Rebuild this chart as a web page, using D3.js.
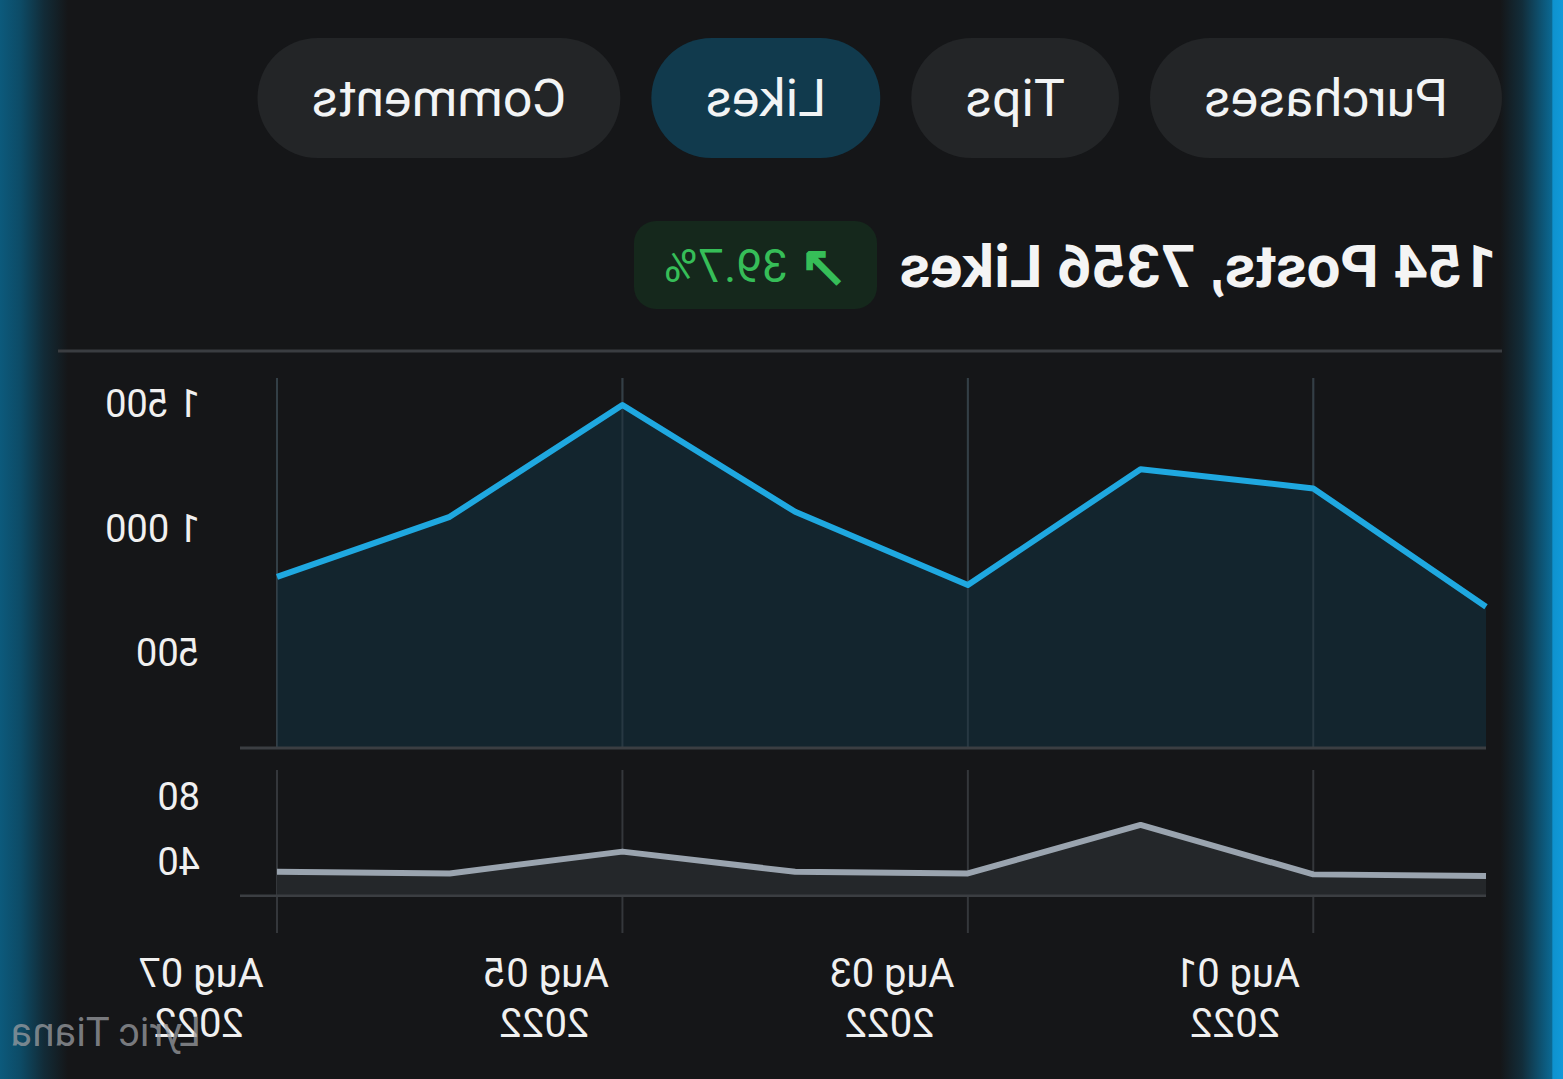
<!DOCTYPE html>
<html>
<head>
<meta charset="utf-8">
<script src="https://cdn.jsdelivr.net/npm/d3@7"></script>
<style>
  body { margin: 0; background: #151618; overflow: hidden; }
  svg { display: block; font-family: Roboto, "Noto Sans", sans-serif; }
</style>
</head>
<body>
<svg id="chart" width="1563" height="1079"></svg>
<script>
// data
const days = ["2022-07-31", "2022-08-01", "2022-08-02", "2022-08-03", "2022-08-04", "2022-08-05", "2022-08-06", "2022-08-07"];
const likes = [686, 1161, 1238, 773, 1067, 1496, 1047, 806];
const posts = [31.2, 32.2, 62.6, 32.8, 33.8, 46.2, 32.8, 33.8];
const likeTicks = [500, 1000, 1500];
const postTicks = [40, 80];
const dateTicks = ["2022-08-01", "2022-08-03", "2022-08-05", "2022-08-07"];
const tabs = ["Purchases", "Tips", "Likes", "Comments"];
const activeTab = "Likes";
const title = "154 Posts, 7356 Likes";
const arrow = "\u2197";
const change = "39.7%";
const credit = "Lyric Tiana";

const W = 1563, H = 1079;
const parse = d3.timeParse("%Y-%m-%d");
const rows = days.map((d, i) => ({date: parse(d), likes: likes[i], posts: posts[i]}));

const svg = d3.select("#chart");
const defs = svg.append("defs");

// glowing blue edges of the phone frame
const gl = defs.append("linearGradient").attr("id", "edgeL");
gl.append("stop").attr("offset", "0%").attr("stop-color", "#0c5a7c");
gl.append("stop").attr("offset", "30%").attr("stop-color", "#0d4b66");
gl.append("stop").attr("offset", "65%").attr("stop-color", "#122b37");
gl.append("stop").attr("offset", "100%").attr("stop-color", "#151618");
const gr = defs.append("linearGradient").attr("id", "edgeR");
gr.append("stop").attr("offset", "0%").attr("stop-color", "#151618");
gr.append("stop").attr("offset", "35%").attr("stop-color", "#122d3a");
gr.append("stop").attr("offset", "82%").attr("stop-color", "#0b6892");
gr.append("stop").attr("offset", "84%").attr("stop-color", "#0e92cf");
gr.append("stop").attr("offset", "100%").attr("stop-color", "#1199d8");

svg.append("rect").attr("width", W).attr("height", H).attr("fill", "#151618");
svg.append("rect").attr("x", 0).attr("y", 0).attr("width", 68).attr("height", H).attr("fill", "url(#edgeL)");
svg.append("rect").attr("x", 1500).attr("y", 0).attr("width", 63).attr("height", H).attr("fill", "url(#edgeR)");

// the whole screen is shown mirrored
const g = svg.append("g").attr("transform", `translate(${W},0) scale(-1,1)`);

// tabs
let tx = 61;
tabs.forEach(t => {
  const tg = g.append("g");
  const rect = tg.append("rect").attr("y", 38).attr("height", 120).attr("rx", 60)
    .attr("fill", t === activeTab ? "#113a4d" : "#232527");
  const label = tg.append("text").text(t).attr("y", 98)
    .attr("dominant-baseline", "central").attr("text-anchor", "middle")
    .attr("font-size", 52).attr("fill", "#f2f4f5");
  const w = label.node().getComputedTextLength() + 108;
  rect.attr("x", tx).attr("width", w);
  label.attr("x", tx + w / 2);
  tx += w + 31;
});

// headline and change badge
g.append("text").text(title).attr("x", 66).attr("y", 287)
  .attr("font-size", 60).attr("font-weight", "bold").attr("fill", "#f4f4f4");
g.append("rect").attr("x", 686).attr("y", 221).attr("width", 243).attr("height", 88)
  .attr("rx", 22).attr("fill", "#15281c");
const badge = g.append("text").attr("x", 807).attr("y", 266)
  .attr("text-anchor", "middle").attr("dominant-baseline", "central")
  .attr("font-size", 46).attr("fill", "#36be58");
badge.append("tspan").attr("font-size", 58).attr("font-weight", "bold").text(arrow);
badge.append("tspan").text(" " + change);

g.append("line").attr("x1", 61).attr("x2", 1505).attr("y1", 351).attr("y2", 351)
  .attr("stroke", "#3a3d41").attr("stroke-width", 3);

// scales
const x = d3.scaleTime().domain(d3.extent(rows, d => d.date)).range([77, 1286]);
const yMain = d3.scaleLinear().domain([500, 1500]).range([653, 404]);
const ySub = d3.scaleLinear().domain([40, 80]).range([861.7, 796.7]);
const mainTop = 378, mainBottom = 748, subTop = 770, subBottom = 895.7, subGridEnd = 933;

const fmt = d3.formatLocale({decimal: ".", thousands: " ", grouping: [3], currency: ["", ""]}).format(",");

// vertical grid
dateTicks.forEach(d => {
  const xx = x(parse(d));
  g.append("line").attr("x1", xx).attr("x2", xx).attr("y1", mainTop).attr("y2", mainBottom)
    .attr("stroke", "#34373b").attr("stroke-width", 2);
  g.append("line").attr("x1", xx).attr("x2", xx).attr("y1", subTop).attr("y2", subGridEnd)
    .attr("stroke", "#34373b").attr("stroke-width", 2);
});

// likes pane
g.append("path").datum(rows)
  .attr("d", d3.area().x(d => x(d.date)).y0(mainBottom).y1(d => yMain(d.likes)))
  .attr("fill", "#13262f").attr("fill-opacity", 0.95);
dateTicks.forEach(d => {
  const xx = x(parse(d));
  g.append("line").attr("x1", xx).attr("x2", xx).attr("y1", mainTop).attr("y2", mainBottom)
    .attr("stroke", "#34454e").attr("stroke-width", 2).attr("stroke-opacity", 0.6);
});
g.append("path").datum(rows)
  .attr("d", d3.line().x(d => x(d.date)).y(d => yMain(d.likes)))
  .attr("fill", "none").attr("stroke", "#1fa8e0").attr("stroke-width", 6)
  .attr("stroke-linejoin", "round");
g.append("line").attr("x1", 77).attr("x2", 1323).attr("y1", mainBottom).attr("y2", mainBottom)
  .attr("stroke", "#3b3e42").attr("stroke-width", 3);

g.selectAll(".ytick").data(likeTicks).join("text")
  .attr("x", 1363).attr("y", d => yMain(d)).attr("dominant-baseline", "central")
  .attr("font-size", 38).attr("fill", "#f0f0f0").text(d => fmt(d));

// posts pane
g.append("path").datum(rows)
  .attr("d", d3.area().x(d => x(d.date)).y0(subBottom).y1(d => ySub(d.posts)))
  .attr("fill", "#24272a");
g.append("path").datum(rows)
  .attr("d", d3.line().x(d => x(d.date)).y(d => ySub(d.posts)))
  .attr("fill", "none").attr("stroke", "#9aa4af").attr("stroke-width", 6)
  .attr("stroke-linejoin", "round");
g.append("line").attr("x1", 77).attr("x2", 1323).attr("y1", subBottom).attr("y2", subBottom)
  .attr("stroke", "#3b3e42").attr("stroke-width", 2.5);

g.selectAll(".ptick").data(postTicks).join("text")
  .attr("x", 1363).attr("y", d => ySub(d)).attr("dominant-baseline", "central")
  .attr("font-size", 38).attr("fill", "#f0f0f0").text(d => d);

// date labels
const fDay = d3.timeFormat("%b %d"), fYear = d3.timeFormat("%Y");
dateTicks.forEach(d => {
  const dt = parse(d);
  const t = g.append("text").attr("text-anchor", "middle").attr("font-size", 40).attr("fill", "#f0f0f0");
  t.append("tspan").attr("x", x(dt) + 76).attr("y", 987).text(fDay(dt));
  t.append("tspan").attr("x", x(dt) + 78).attr("y", 1037).text(fYear(dt));
});

// watermark, drawn over the last year label as in the screenshot
g.append("text").text(credit).attr("x", 1362).attr("y", 1046)
  .attr("font-size", 40).attr("fill", "#9a9ca0").attr("fill-opacity", 0.75);
</script>
</body>
</html>
